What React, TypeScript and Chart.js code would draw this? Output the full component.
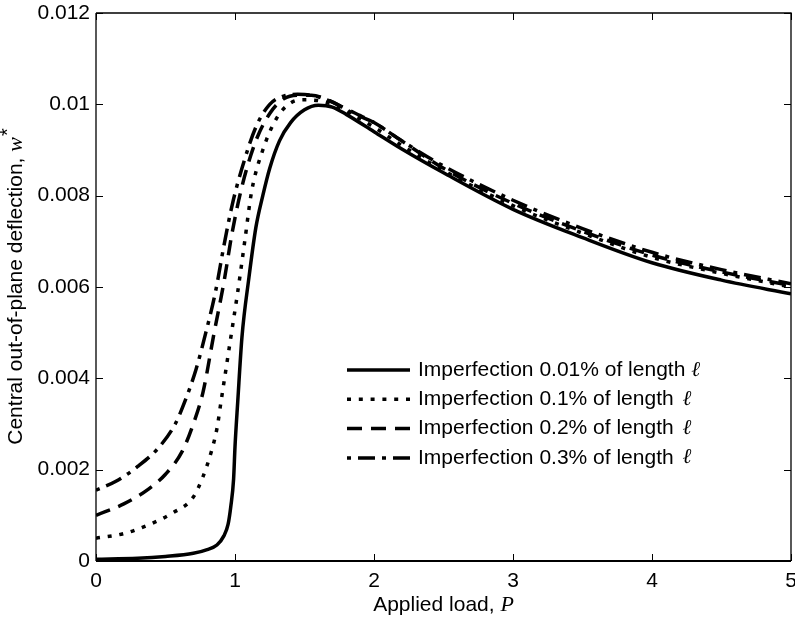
import React, { useEffect, useRef } from "react";
import { Chart, registerables } from "chart.js";

Chart.register(...registerables);

// ---- Data ----
const solidX = [0, 0.3, 0.5, 0.7, 0.8, 0.87, 0.92, 0.95, 0.97, 0.99, 1.0, 1.02, 1.05, 1.1, 1.15, 1.2, 1.25, 1.32, 1.4, 1.5, 1.6, 1.7, 1.8, 2.0, 2.2, 2.5, 3.0, 3.5, 4.0, 4.5, 5.0];
const solidY = [0.00004, 0.00006, 0.0001, 0.00017, 0.00025, 0.00035, 0.00055, 0.0008, 0.0012, 0.0018, 0.0025, 0.0035, 0.0049, 0.0062, 0.0073, 0.008, 0.0086, 0.0092, 0.0096, 0.00988, 0.00998, 0.00994, 0.00978, 0.0094, 0.00902, 0.0085, 0.0077, 0.00708, 0.00653, 0.00615, 0.00585];

const dottedX = [0, 0.2, 0.4, 0.55, 0.7, 0.77, 0.83, 0.87, 0.9, 0.97, 1.02, 1.07, 1.12, 1.2, 1.3, 1.4, 1.5, 1.6, 1.7, 1.8, 2.0, 2.2, 2.5, 3.0, 3.5, 4.0, 4.5, 5.0];
const dottedY = [0.0005, 0.0006, 0.00082, 0.00105, 0.0014, 0.00185, 0.0024, 0.0029, 0.0035, 0.0049, 0.0059, 0.007, 0.0081, 0.009, 0.0097, 0.01003, 0.0101, 0.01008, 0.01, 0.00985, 0.0095, 0.0091, 0.00855, 0.00778, 0.00718, 0.00665, 0.0063, 0.006];

const dashedX = [0, 0.2, 0.38, 0.5, 0.62, 0.7, 0.77, 0.85, 0.92, 0.98, 1.05, 1.15, 1.25, 1.35, 1.45, 1.55, 1.65, 1.8, 2.0, 2.2, 2.5, 3.0, 3.5, 4.0, 4.5, 5.0];
const dashedY = [0.001, 0.00125, 0.00158, 0.0019, 0.0024, 0.003, 0.0037, 0.005, 0.0061, 0.0072, 0.0082, 0.0092, 0.0098, 0.01012, 0.0102, 0.0102, 0.01012, 0.0099, 0.0096, 0.0092, 0.0086, 0.00783, 0.00722, 0.0067, 0.00633, 0.00603];

const dashDotX = [0, 0.14, 0.3, 0.45, 0.57, 0.64, 0.72, 0.79, 0.86, 0.92, 0.98, 1.05, 1.15, 1.25, 1.35, 1.45, 1.55, 1.7, 1.85, 2.0, 2.2, 2.5, 3.0, 3.5, 4.0, 4.5, 5.0];
const dashDotY = [0.00155, 0.00174, 0.00207, 0.00248, 0.003, 0.0035, 0.0042, 0.005, 0.0059, 0.0069, 0.0078, 0.0086, 0.0095, 0.01, 0.01018, 0.01022, 0.0102, 0.01005, 0.0098, 0.0096, 0.0092, 0.00865, 0.0079, 0.00728, 0.00676, 0.00638, 0.00607];

const seriesLabels = [
  "Imperfection 0.01% of length ",
  "Imperfection 0.1% of length ",
  "Imperfection 0.2% of length ",
  "Imperfection 0.3% of length ",
];
const lengthSymbol = "\u2113";

const xTicks = [0, 1, 2, 3, 4, 5];
const yTicks = [0, 0.002, 0.004, 0.006, 0.008, 0.01, 0.012];

const xTitle = "Applied load, ";
const xTitleVar = "P";
const yTitle = "Central out-of-plane deflection, ";
const yTitleVar = "w";
const yTitleSup = "*";

const SANS = '"Liberation Sans", Arial, Helvetica, sans-serif';
const SERIF = '"Liberation Serif", "Times New Roman", serif';
const FONT_PX = 21;

const zip = (xs: number[], ys: number[]) => xs.map((x, i) => ({ x, y: ys[i] }));

const dashes: number[][] = [[], [4, 7.8], [15, 9], [4, 7, 17, 7]];

const framePlugin = {
  id: "frame",
  afterDraw(chart: any) {
    const { ctx, chartArea } = chart;
    const { left, right, top, bottom } = chartArea;
    const xs = chart.scales.x;
    const ys = chart.scales.y;
    ctx.save();
    ctx.strokeStyle = "#000";
    ctx.setLineDash([]);
    ctx.lineWidth = 1.3;
    ctx.beginPath();
    ctx.moveTo(left, top);
    ctx.lineTo(right, top);
    ctx.lineTo(right, bottom);
    ctx.moveTo(left, bottom);
    ctx.lineTo(left, top);
    ctx.stroke();
    ctx.lineWidth = 2;
    ctx.beginPath();
    ctx.moveTo(left, bottom);
    ctx.lineTo(right, bottom);
    ctx.stroke();
    // inward ticks
    const tl = 7;
    ctx.lineWidth = 1;
    ctx.beginPath();
    xTicks.forEach((v) => {
      const px = Math.round(xs.getPixelForValue(v)) + 0.5;
      ctx.moveTo(px, bottom);
      ctx.lineTo(px, bottom - tl);
      ctx.moveTo(px, top);
      ctx.lineTo(px, top + tl);
    });
    yTicks.forEach((v) => {
      const py = Math.round(ys.getPixelForValue(v)) + 0.5;
      ctx.moveTo(left, py);
      ctx.lineTo(left + tl, py);
      ctx.moveTo(right, py);
      ctx.lineTo(right - tl, py);
    });
    ctx.stroke();

    // axis titles
    ctx.fillStyle = "#000";
    ctx.textBaseline = "middle";
    ctx.textAlign = "left";
    const sans = `${FONT_PX}px ${SANS}`;
    const serifIt = `italic ${FONT_PX + 1}px ${SERIF}`;
    // x title
    ctx.font = sans;
    const w1 = ctx.measureText(xTitle).width;
    ctx.font = serifIt;
    const w2 = ctx.measureText(xTitleVar).width;
    const cx = (left + right) / 2;
    const ty = bottom + 44;
    const sx = cx - (w1 + w2) / 2;
    ctx.font = sans;
    ctx.fillText(xTitle, sx, ty);
    ctx.font = serifIt;
    ctx.fillText(xTitleVar, sx + w1, ty);

    // y title (rotated)
    ctx.save();
    ctx.translate(16, (top + bottom) / 2);
    ctx.rotate(-Math.PI / 2);
    ctx.font = sans;
    const a1 = ctx.measureText(yTitle).width;
    ctx.font = serifIt;
    const a2 = ctx.measureText(yTitleVar).width;
    ctx.font = `${FONT_PX - 1}px ${SANS}`;
    const a3 = ctx.measureText(yTitleSup).width;
    const ox = -(a1 + a2 + a3) / 2;
    ctx.font = sans;
    ctx.fillText(yTitle, ox, 0);
    ctx.font = serifIt;
    ctx.fillText(yTitleVar, ox + a1, 0);
    ctx.font = `${FONT_PX - 1}px ${SANS}`;
    ctx.fillText(yTitleSup, ox + a1 + a2 + 1, -8);
    ctx.restore();

    // legend
    const lx0 = left + 251;
    const lx1 = left + 314;
    const tx = left + 322;
    const ly0 = top + 357;
    const step = 29.3;
    chart.data.datasets.forEach((ds: any, i: number) => {
      const y = ly0 + i * step;
      ctx.lineWidth = ds.borderWidth;
      ctx.setLineDash(ds.borderDash || []);
      ctx.lineCap = "butt";
      ctx.beginPath();
      ctx.moveTo(lx0, y);
      ctx.lineTo(lx1, y);
      ctx.stroke();
      ctx.setLineDash([]);
      ctx.font = sans;
      ctx.fillText(ds.label, tx, y);
      const tw = ctx.measureText(ds.label).width;
      ctx.font = `italic ${FONT_PX}px ${SERIF}`;
      ctx.fillText(lengthSymbol, tx + tw + (i === 0 ? 0 : 3), y);
    });
    ctx.restore();
  },
};

export default function App() {
  const ref = useRef<HTMLCanvasElement | null>(null);
  useEffect(() => {
    if (!ref.current) return;
    const mk = (i: number, xs: number[], ys: number[]) => ({
      label: seriesLabels[i],
      data: zip(xs, ys),
      showLine: true,
      borderColor: "#000",
      backgroundColor: "#000",
      borderWidth: 3.5,
      borderDash: dashes[i],
      borderCapStyle: "butt",
      pointRadius: 0,
      pointHoverRadius: 0,
      fill: false,
      cubicInterpolationMode: "monotone",
    });
    const chart = new Chart(ref.current, {
      type: "scatter",
      data: {
        datasets: [
          mk(0, solidX, solidY),
          mk(1, dottedX, dottedY),
          mk(2, dashedX, dashedY),
          mk(3, dashDotX, dashDotY),
        ] as any,
      },
      options: {
        animation: false,
        responsive: false,
        devicePixelRatio: 1,
        layout: { padding: { left: 0, right: 4, top: 13, bottom: 0 } },
        plugins: {
          legend: { display: false },
          tooltip: { enabled: false },
          title: { display: false },
        },
        scales: {
          x: {
            type: "linear",
            min: 0,
            max: 5,
            grid: { display: false, drawTicks: false },
            border: { display: false },
            ticks: {
              color: "#000",
              font: { family: SANS, size: FONT_PX },
              padding: 8,
              maxRotation: 0,
              callback: (v: any) => String(v),
            },
            afterBuildTicks: (s: any) => {
              s.ticks = xTicks.map((value) => ({ value }));
            },
            afterFit: (s: any) => {
              s.height = 58;
              s.paddingLeft = 0;
              s.paddingRight = 0;
            },
          },
          y: {
            type: "linear",
            min: 0,
            max: 0.012,
            grid: { display: false, drawTicks: false },
            border: { display: false },
            ticks: {
              color: "#000",
              font: { family: SANS, size: FONT_PX },
              padding: 6,
              callback: (v: any) => String(parseFloat(Number(v).toFixed(4))),
            },
            afterBuildTicks: (s: any) => {
              s.ticks = yTicks.map((value) => ({ value }));
            },
            afterFit: (s: any) => {
              s.width = 96;
              s.paddingTop = 0;
              s.paddingBottom = 0;
            },
          },
        },
      } as any,
      plugins: [framePlugin],
    });
    return () => chart.destroy();
  }, []);
  return (
    <div style={{ position: "absolute", left: 0, top: 0, width: 795, height: 619, background: "#fff" }}>
      <canvas ref={ref} width={795} height={619} style={{ display: "block", width: 795, height: 619 }} />
    </div>
  );
}
